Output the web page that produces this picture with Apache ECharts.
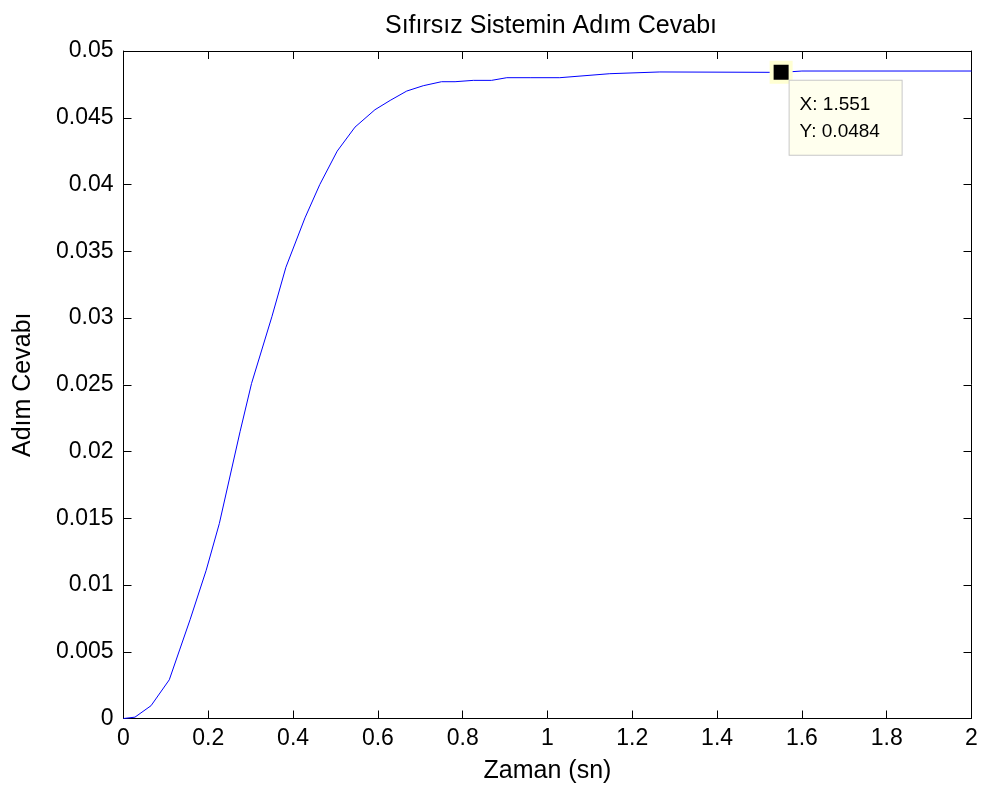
<!DOCTYPE html>
<html>
<head>
<meta charset="utf-8">
<script src="https://cdn.jsdelivr.net/npm/echarts@6/dist/echarts.min.js"></script>
<style>html,body{margin:0;padding:0;background:#fff}#c{width:984px;height:791px}</style>
</head>
<body>
<div id="c"></div>
<script>
const timeValues = [0, 0.027, 0.065, 0.108, 0.133, 0.157, 0.195, 0.226, 0.275, 0.302, 0.35, 0.383, 0.428, 0.463, 0.504, 0.546, 0.593, 0.629, 0.668, 0.707, 0.75, 0.782, 0.825, 0.868, 0.904, 0.959, 1.029, 1.147, 1.265, 1.551, 1.6, 2.0];
const responseValues = [0, 0.0001, 0.00096, 0.0029, 0.0052, 0.0074, 0.0111, 0.0146, 0.0215, 0.0251, 0.0301, 0.0338, 0.0375, 0.0400, 0.0425, 0.0443, 0.0456, 0.0463, 0.0470, 0.0474, 0.0477, 0.0477, 0.0478, 0.0478, 0.0480, 0.0480, 0.0480, 0.0483, 0.04843, 0.0484, 0.0485, 0.0485];
const dataTip = [1.551, 0.0484];
const xTickLabels = ['0','0.2','0.4','0.6','0.8','1','1.2','1.4','1.6','1.8','2'];
const yTickLabels = ['0','0.005','0.01','0.015','0.02','0.025','0.03','0.035','0.04','0.045','0.05'];

const font = 'Liberation Sans, Arial, sans-serif';
const chart = echarts.init(document.getElementById('c'));
const lineData = timeValues.map((t, i) => [t, responseValues[i]]);
const axisCommon = {
  axisLine: {show: true, onZero: false, lineStyle: {color: '#000', width: 1}},
  axisTick: {show: true, inside: true, length: 8, lineStyle: {color: '#000'}},
  splitLine: {show: false}
};
chart.setOption({
  animation: false,
  backgroundColor: '#fff',
  title: {
    text: 'Sıfırsız Sistemin Adım Cevabı',
    left: 546, top: 9, textAlign: 'center',
    textStyle: {fontFamily: font, fontSize: 25, fontWeight: 'normal', color: '#000'}
  },
  grid: {left: 123.5, right: 12.5, top: 51, bottom: 72.5},
  xAxis: [
    Object.assign({
      type: 'value', min: 0, max: 2, interval: 0.2, position: 'bottom',
      name: 'Zaman (sn)', nameLocation: 'middle', nameGap: 40,
      nameTextStyle: {fontFamily: font, fontSize: 25, color: '#000'},
      axisLabel: {fontFamily: font, fontSize: 23, color: '#000', margin: 9,
        formatter: v => xTickLabels[Math.round(v / 0.2)]}
    }, axisCommon),
    Object.assign({
      type: 'value', min: 0, max: 2, interval: 0.2, position: 'top',
      axisLabel: {show: false}
    }, axisCommon)
  ],
  yAxis: [
    Object.assign({
      type: 'value', min: 0, max: 0.05, interval: 0.005, position: 'left',
      name: 'Adım Cevabı', nameLocation: 'middle', nameGap: 88,
      nameTextStyle: {fontFamily: font, fontSize: 25, color: '#000'},
      axisLabel: {fontFamily: font, fontSize: 23, color: '#000', margin: 10,
        formatter: v => yTickLabels[Math.round(v / 0.005)]}
    }, axisCommon),
    Object.assign({
      type: 'value', min: 0, max: 0.05, interval: 0.005, position: 'right',
      axisLabel: {show: false}
    }, axisCommon)
  ],
  series: [
    {
      type: 'line', data: lineData, showSymbol: false, symbol: 'none',
      lineStyle: {color: '#0000ff', width: 1}, z: 2
    },
    {
      type: 'scatter', data: [dataTip], symbol: 'rect', symbolSize: 19,
      itemStyle: {color: '#000', borderColor: '#ffffd2', borderWidth: 4, opacity: 1}, z: 5,
      label: {
        show: true, position: [20, 20],
        formatter: p => 'X: ' + p.value[0] + '\nY: ' + p.value[1],
        fontFamily: font, fontSize: 19, color: '#000', lineHeight: 27,
        backgroundColor: '#ffffee', borderColor: '#c8c8c8', borderWidth: 1,
        padding: [10, 10, 10, 10], width: 92, align: 'left'
      }
    }
  ]
});
</script>
</body>
</html>
